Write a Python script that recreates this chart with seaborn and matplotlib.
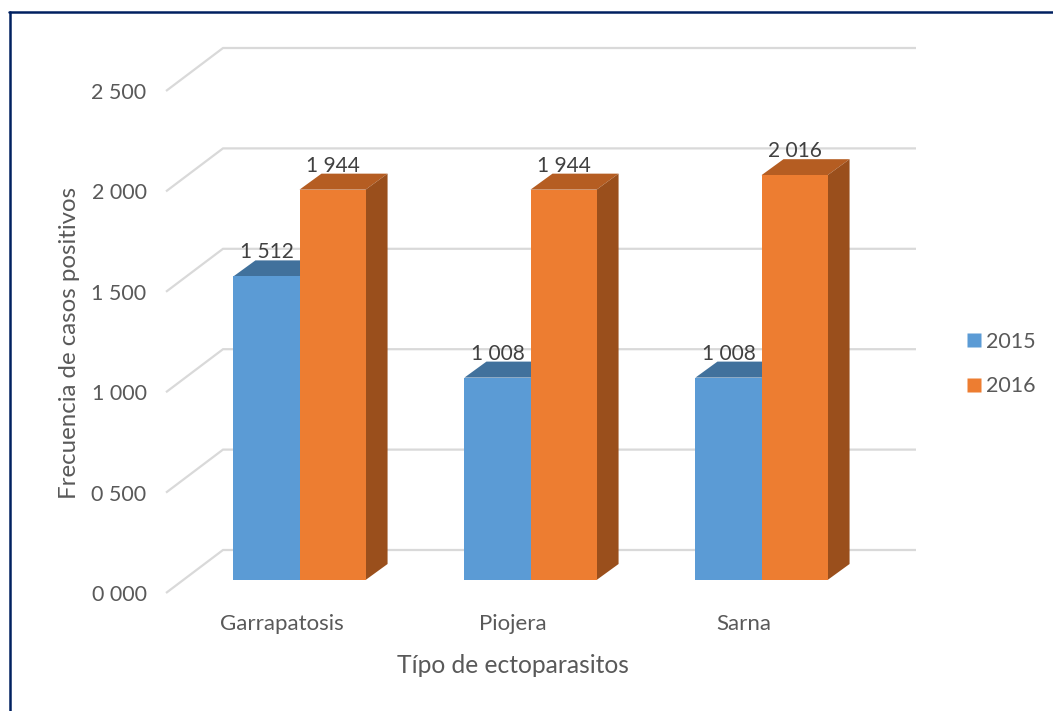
import pandas as pd
import numpy as np
import matplotlib as mpl
mpl.use('Agg')
import matplotlib.pyplot as plt
from matplotlib.lines import Line2D
from matplotlib.patches import Polygon
import seaborn as sns

# datos de la grafica
tipos = ['Garrapatosis', 'Piojera', 'Sarna']
anios = ['2015', '2016']
casos_2015 = [1512, 1008, 1008]
casos_2016 = [1944, 1944, 2016]
ticks_y = [0, 500, 1000, 1500, 2000, 2500]

W, H = 1053, 711
COLORES = {'2015': '#5B9BD5', '2016': '#ED7D31'}
TECHO = {'2015': '#41719C', '2016': '#B55D22'}
LADO = {'2015': '#41719C', '2016': '#9A4F1C'}
GRIS = '#D9D9D9'
TEXTO = '#595959'

sns.set_theme(style='white')
plt.rcParams['font.family'] = ['Lato', 'DejaVu Sans']


def caja(x0, y_top, x1, y_bottom):
    """Ejes a partir de pixeles de la imagen"""
    return [x0 / W, 1 - y_bottom / H, (x1 - x0) / W, (y_bottom - y_top) / H]


def miles(v):
    return f'{int(v) // 1000} {int(v) % 1000:03d}'


df = pd.DataFrame({
    'tipo': tipos * 2,
    'anio': [anios[0]] * 3 + [anios[1]] * 3,
    'casos': casos_2015 + casos_2016,
})

fig = plt.figure(figsize=(W / 100, H / 100), dpi=100, facecolor='white')

# plano frontal: ejes, rejilla y textos
ax = fig.add_axes(caja(166, 91, 859, 593))
ax.set_xlim(-0.5, 2.5)
ax.set_ylim(0, 2500)
px_x = 3 / 693
px_y = 2500 / 502
fx, fy = 57 * px_x, 43 * px_y
for v in ticks_y:
    ax.plot([-0.5, -0.5 + fx, 2.5 + fx], [v, v + fy, v + fy], color=GRIS, lw=1.6,
            clip_on=False, solid_joinstyle='miter', solid_capstyle='butt', zorder=1)
ax.set_xticks(range(3), tipos)
ax.set_yticks(ticks_y, [miles(v) for v in ticks_y])
ax.tick_params(axis='x', length=0, pad=15, labelsize=16, labelcolor=TEXTO)
ax.tick_params(axis='y', length=0, pad=14, labelsize=15.5, labelcolor=TEXTO)
sns.despine(ax=ax, left=True, bottom=True)
ax.set_xlabel('Típo de ectoparasitos', fontsize=17.7, color=TEXTO)
ax.set_ylabel('Frecuencia de casos positivos', fontsize=17.3, color=TEXTO)
ax.xaxis.set_label_coords((513 - 166) / 693, -(654 - 593) / 502)
ax.yaxis.set_label_coords((80 - 166) / 693, (593 - 343) / 502)

# plano de las barras
ax2 = fig.add_axes(caja(184, 78, 877, 580))
ax2.patch.set_alpha(0)
sns.barplot(data=df, x='tipo', y='casos', hue='anio', hue_order=anios, palette=COLORES,
            width=0.572, gap=0, saturation=1, dodge=True, legend=False, ax=ax2, zorder=3,
            linewidth=0, edgecolor='none')
ax2.set_xlim(-0.5, 2.5)
ax2.set_ylim(0, 2500)
ax2.axis('off')

dx, dy = 22 * px_x, 16 * px_y
for anio, cont in zip(anios, ax2.containers):
    for bar in cont:
        x0, x1 = bar.get_x(), bar.get_x() + bar.get_width()
        top = bar.get_height()
        ax2.add_patch(Polygon([(x0, top), (x1, top), (x1 + dx, top + dy), (x0 + dx, top + dy)],
                              closed=True, fc=TECHO[anio], ec='none', zorder=2, clip_on=False))
        ax2.add_patch(Polygon([(x1, 0), (x1 + dx, dy), (x1 + dx, top + dy), (x1, top)],
                              closed=True, fc=LADO[anio], ec='none', zorder=2, clip_on=False))
        ax2.text((x0 + x1) / 2, top + dy - 2 * px_y, miles(top), ha='center', va='bottom',
                 fontsize=15, color='#404040', zorder=5, clip_on=False)

# leyenda
handles = [Line2D([], [], ls='none', marker='s', ms=10.2, mfc=COLORES[a], mec='none', label=a)
           for a in anios]
fig.legend(handles=handles, loc='center left', bbox_to_anchor=(963 / W, 1 - 364 / H),
           frameon=False, fontsize=15.5, labelcolor=TEXTO, handlelength=1.0,
           handletextpad=0.07, labelspacing=1.15, borderpad=0, borderaxespad=0)

# marco azul, solo arriba y a la izquierda
azul = '#002060'
fig.add_artist(Line2D([9.5 / W, 9.5 / W], [0, 1 - 12 / H], color=azul, lw=1.8))
fig.add_artist(Line2D([8.8 / W, 1], [1 - 12 / H, 1 - 12 / H], color=azul, lw=1.8))

fig.savefig('out.png', dpi=100)
